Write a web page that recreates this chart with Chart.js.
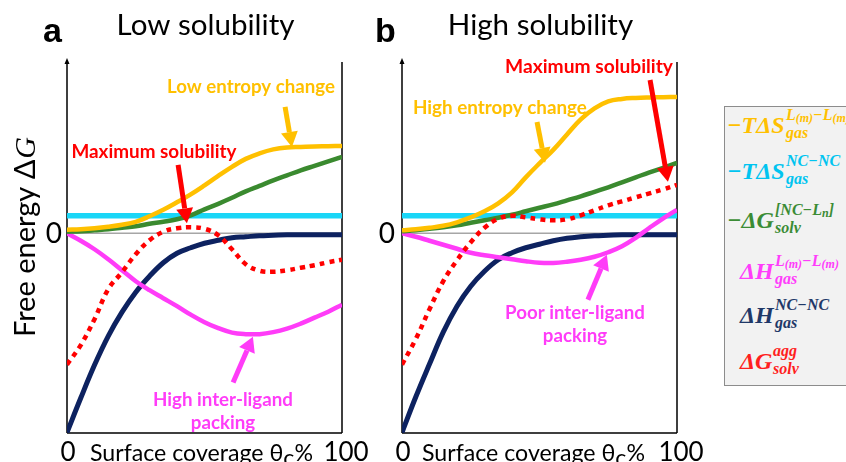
<!DOCTYPE html>
<html>
<head>
<meta charset="utf-8">
<title>Free energy vs surface coverage</title>
<script src="https://cdn.jsdelivr.net/npm/chart.js@4.4.1/dist/chart.umd.min.js"></script>
<style>
  html, body { margin: 0; padding: 0; background: #fff; }
  body { position: relative; width: 846px; height: 462px; overflow: hidden; }
  canvas { position: absolute; left: 0; top: 0; }
  #legendBox { position: absolute; left: 724px; top: 106px; width: 140px; height: 280px; box-sizing: border-box; background: #f2f2f2; border: 1.5px solid #8c8c8c; }
  .ent { position: absolute; white-space: nowrap; font-family: 'Liberation Serif', serif; font-weight: bold; font-style: italic; }
  .ent .m { position: absolute; left: 0; top: 0; font-size: 24px; line-height: 24px; }
  .ent .sp, .ent .sb { position: absolute; font-size: 16px; line-height: 16px; }
  .ent .sp { top: -5.5px; }
  .ent .sb { top: 12.5px; }
  .ent sub { font-size: 12px; vertical-align: -2px; line-height: 0; }
</style>
</head>
<body>
<canvas id="chartA" width="846" height="462"></canvas>
<canvas id="chartB" width="846" height="462"></canvas>
<div id="legendBox"></div>
<div id="legend"></div>
<script>
// surface coverage grid (%), shared by every curve
const coverage = [0, 5, 10, 15, 20, 25, 30, 35, 40, 45, 50, 55, 60, 65, 70, 75, 80, 85, 90, 95, 100];

// panel a: low solubility
const aEntropyLigand = [0.35, 0.4, 0.5, 0.65, 0.85, 1.15, 1.7, 2.35, 3.1, 3.9, 4.8, 5.75, 6.65, 7.45, 8.0, 8.4, 8.6, 8.65, 8.7, 8.72, 8.75];
const aEntropyNC     = [1.75, 1.75, 1.75, 1.75, 1.75, 1.75, 1.75, 1.75, 1.75, 1.75, 1.75, 1.75, 1.75, 1.75, 1.75, 1.75, 1.75, 1.75, 1.75, 1.75, 1.75];
const aSolvation     = [0.15, 0.2, 0.3, 0.4, 0.55, 0.7, 0.95, 1.15, 1.4, 1.8, 2.4, 2.95, 3.55, 4.2, 4.75, 5.3, 5.8, 6.3, 6.75, 7.2, 7.65];
const aEnthalpyLigand = [0, -0.75, -1.6, -2.6, -3.7, -4.8, -5.7, -6.5, -7.3, -8.15, -8.9, -9.5, -9.95, -10.1, -10.1, -9.9, -9.55, -9.05, -8.45, -7.85, -7.15];
const aEnthalpyNC    = [-19.95, -16.5, -13.2, -10.3, -7.9, -5.9, -4.3, -2.95, -2.0, -1.45, -1.0, -0.7, -0.45, -0.35, -0.25, -0.2, -0.15, -0.15, -0.15, -0.15, -0.15];
const aAggregation   = [-13.15, -11.2, -8.6, -5.6, -3.9, -2.1, -0.7, 0.15, 0.5, 0.6, 0.45, -0.2, -1.6, -3.1, -3.75, -3.85, -3.7, -3.45, -3.2, -2.9, -2.65];

// panel b: high solubility
const bEntropyLigand = [0.3, 0.4, 0.55, 0.75, 1.1, 1.6, 2.2, 3.0, 4.1, 5.6, 7.0, 8.35, 9.9, 11.4, 12.5, 13.2, 13.45, 13.55, 13.6, 13.63, 13.65];
const bEntropyNC     = [1.75, 1.75, 1.75, 1.75, 1.75, 1.75, 1.75, 1.75, 1.75, 1.75, 1.75, 1.75, 1.75, 1.75, 1.75, 1.75, 1.75, 1.75, 1.75, 1.75, 1.75];
const bSolvation     = [0.2, 0.3, 0.45, 0.6, 0.8, 1.05, 1.3, 1.55, 1.85, 2.2, 2.55, 2.9, 3.3, 3.7, 4.15, 4.6, 5.1, 5.6, 6.1, 6.55, 7.05];
const bEnthalpyLigand = [0, -0.35, -0.75, -1.15, -1.55, -1.95, -2.2, -2.4, -2.6, -2.8, -2.95, -2.97, -2.85, -2.65, -2.35, -1.9, -1.3, -0.45, 0.55, 1.5, 2.35];
const bEnthalpyNC    = [-19.95, -16.4, -13.1, -9.9, -7.3, -5.3, -3.8, -2.65, -1.95, -1.45, -1.1, -0.75, -0.5, -0.35, -0.25, -0.2, -0.15, -0.15, -0.15, -0.15, -0.15];
const bAggregation   = [-13.15, -10.6, -7.6, -4.8, -2.7, -0.9, 0.55, 1.45, 1.75, 1.6, 1.4, 1.3, 1.4, 1.8, 2.3, 2.8, 3.2, 3.6, 4.0, 4.4, 4.85];

// axes text
const xTickValues = [0, 100];
const xTickLabels = ['0', '100'];
const yTickValues = [0];
const yTickLabels = ['0'];
const panelLetters = ['a', 'b'];
const panelTitles = ['Low solubility', 'High solubility'];

// legend
const legendBase = ['\u2212T\u0394S', '\u2212T\u0394S', '\u2212\u0394G', '\u0394H', '\u0394H', '\u0394G'];
const legendSup = ['L<sub>(m)</sub>\u2212L<sub>(m)</sub>', 'NC\u2212NC', '[NC\u2212L<sub>n</sub>]', 'L<sub>(m)</sub>\u2212L<sub>(m)</sub>', 'NC\u2212NC', 'agg'];
const legendSub = ['gas', 'gas', 'solv', 'gas', 'gas', 'solv'];
const legendColors = ['#ffc000', '#00c4f0', '#3b8c35', '#ff3dfb', '#1f3868', '#ff1f1f'];
const legendLeft = [727, 727, 727, 740, 740, 740];
const legendCapTop = [117, 163, 212, 263, 307, 353];

const C = { yellow: '#ffc000', cyan: '#1ad6f7', green: '#3a8a2f', magenta: '#ff3cf8', navy: '#0d2260', red: '#ff0000' };

// annotations, anchored in data units
const notesA = [
  { lines: ['Low entropy change'], color: C.yellow, at: [66.9, 14.65], from: [79.3, 12.65], to: [81.8, 8.65], w: 168 },
  { lines: ['Maximum solubility'], color: C.red, at: [31.6, 8.15], from: [40.4, 6.85], to: [43.6, 1.0], w: 165 },
  { lines: ['High inter-ligand', 'packing'], color: C.magenta, at: [56.7, -16.65], from: [60.4, -14.95], to: [67.6, -10.35], w: 140 }
];
const notesB = [
  { lines: ['Maximum solubility'], color: C.red, at: [68, 16.65], from: [90.2, 15.35], to: [96.7, 5.15], w: 168 },
  { lines: ['High entropy change'], color: C.yellow, at: [35.6, 12.55], from: [49.1, 11.15], to: [52, 7.05], w: 174 },
  { lines: ['Poor inter-ligand', 'packing'], color: C.magenta, at: [62.9, -7.95], from: [67.6, -6.65], to: [74.5, -2.15], w: 140 }
];

function fitSize(ctx, text, width, weight, family) {
  ctx.font = `${weight} 20px ${family}`;
  return 20 * width / ctx.measureText(text).width;
}

function arrow(ctx, x1, y1, x2, y2, color) {
  const ang = Math.atan2(y2 - y1, x2 - x1), hl = 15, hw = 8.5;
  const bx = x2 - hl * Math.cos(ang), by = y2 - hl * Math.sin(ang);
  ctx.strokeStyle = color; ctx.lineWidth = 5; ctx.lineCap = 'butt';
  ctx.beginPath(); ctx.moveTo(x1, y1); ctx.lineTo(bx, by); ctx.stroke();
  ctx.fillStyle = color;
  ctx.beginPath();
  ctx.moveTo(x2, y2);
  ctx.lineTo(bx + hw * Math.sin(ang), by - hw * Math.cos(ang));
  ctx.lineTo(bx - hw * Math.sin(ang), by + hw * Math.cos(ang));
  ctx.closePath(); ctx.fill();
}

const decor = {
  id: 'decor',
  beforeDatasetsDraw(chart, args, o) {
    const { ctx, chartArea: a, scales: { y } } = chart;
    ctx.save();
    const y0 = y.getPixelForValue(0);
    ctx.strokeStyle = '#a6a6a6'; ctx.lineWidth = 1.3;
    ctx.beginPath(); ctx.moveTo(a.left, y0); ctx.lineTo(a.right, y0); ctx.stroke();
    ctx.strokeStyle = '#000'; ctx.lineWidth = 1.5;
    ctx.beginPath();
    ctx.moveTo(a.left, a.bottom); ctx.lineTo(a.left, a.top - 1);
    ctx.moveTo(a.left, a.bottom); ctx.lineTo(a.right, a.bottom);
    ctx.moveTo(a.right, a.top); ctx.lineTo(a.right, a.bottom);
    ctx.stroke();
    ctx.fillStyle = '#000';
    ctx.beginPath();
    ctx.moveTo(a.left, a.top - 4); ctx.lineTo(a.left - 2.5, a.top + 2); ctx.lineTo(a.left + 2.5, a.top + 2);
    ctx.closePath(); ctx.fill();
    ctx.restore();
  },
  afterDraw(chart, args, o) {
    const { ctx, chartArea: a, scales: { x, y } } = chart;
    const p = o.panel;
    ctx.save();
    ctx.fillStyle = '#000';
    ctx.textBaseline = 'alphabetic';

    // panel letter + title
    ctx.font = 'bold 34px "Liberation Sans"';
    ctx.textAlign = 'left';
    ctx.fillText(panelLetters[p], a.left - (p ? 27 : 24), 42);
    const ts = fitSize(ctx, panelTitles[0], 178, 'normal', 'Lato');
    ctx.font = `normal ${ts}px Lato`;
    ctx.textAlign = 'center';
    ctx.fillText(panelTitles[p], (a.left + a.right) / 2 + 1, 35);

    // y ticks
    ctx.font = '28px Lato';
    ctx.textAlign = 'right';
    ctx.textBaseline = 'middle';
    yTickValues.forEach((v, i) => ctx.fillText(yTickLabels[i], a.left - (p ? 7 : 5), y.getPixelForValue(v) + 1));

    // x ticks and title
    ctx.textBaseline = 'alphabetic';
    ctx.font = '26px Lato';
    ctx.textAlign = 'center';
    xTickValues.forEach((v, i) => ctx.fillText(xTickLabels[i], x.getPixelForValue(v) + (v ? 4 : 1), 461));
    ctx.textAlign = 'left';
    const parts = [['Surface coverage ', 'Lato', 1, 0], ['\u03B8', 'italic "Liberation Serif"', 1, 0], ['c', 'italic "Liberation Serif"', 0.65, 5], ['%', 'Lato', 1, 0]];
    let total = 0;
    parts.forEach(([t, f, k]) => { ctx.font = `${26 * k}px ${f}`; total += ctx.measureText(t).width; });
    const fs = 26 * 223 / total;
    let cx = a.left + (p ? 20 : 23);
    parts.forEach(([t, f, k, dy]) => { ctx.font = `${fs * k}px ${f}`; ctx.fillText(t, cx, 461 + dy); cx += ctx.measureText(t).width; });

    // y title (panel a only)
    if (p === 0) {
      ctx.save();
      ctx.translate(35, 337);
      ctx.rotate(-Math.PI / 2);
      ctx.font = '29px Lato';
      ctx.fillText('Free energy \u0394', 0, 0);
      const w = ctx.measureText('Free energy \u0394').width;
      ctx.font = 'italic 30px "Liberation Serif"';
      ctx.fillText('G', w + 1, 0);
      ctx.restore();
    }

    // annotations
    o.notes.forEach(n => {
      arrow(ctx, x.getPixelForValue(n.from[0]), y.getPixelForValue(n.from[1]), x.getPixelForValue(n.to[0]), y.getPixelForValue(n.to[1]), n.color);
      const s = fitSize(ctx, n.lines[0], n.w, 'bold', 'Lato');
      ctx.font = `bold ${s}px Lato`;
      ctx.fillStyle = n.color;
      ctx.textAlign = 'center';
      ctx.textBaseline = 'middle';
      n.lines.forEach((t, k) => ctx.fillText(t, x.getPixelForValue(n.at[0]), y.getPixelForValue(n.at[1]) + k * 23));
    });
    ctx.restore();
  }
};

function curve(vals, color, extra) {
  return Object.assign({
    data: coverage.map((c, i) => ({ x: c, y: vals[i] })),
    borderColor: color, borderWidth: 4.5, pointRadius: 0, fill: false,
    tension: 0.4
  }, extra || {});
}

function makePanel(id, idx, s, notes, padLeft, padRight) {
  return new Chart(document.getElementById(id), {
    type: 'line',
    data: {
      datasets: [
        curve(s[5], C.red, { borderDash: [5, 5], borderWidth: 4.5 }),
        curve(s[0], C.yellow),
        curve(s[2], C.green),
        curve(s[3], C.magenta),
        curve(s[4], C.navy, { borderWidth: 5 }),
        curve(s[1], C.cyan, { borderWidth: 5.5 })
      ]
    },
    options: {
      responsive: false,
      animation: false,
      devicePixelRatio: 1,
      layout: { padding: { left: padLeft, right: padRight, top: 62, bottom: 29 } },
      scales: {
        x: { type: 'linear', min: 0, max: 100, display: false },
        y: { min: -20, max: 17.15, display: false }
      },
      plugins: {
        legend: { display: false },
        tooltip: { enabled: false },
        decor: { panel: idx, notes: notes }
      }
    },
    plugins: [decor]
  });
}

makePanel('chartA', 0, [aEntropyLigand, aEntropyNC, aSolvation, aEnthalpyLigand, aEnthalpyNC, aAggregation], notesA, 67, 504);
makePanel('chartB', 1, [bEntropyLigand, bEntropyNC, bSolvation, bEnthalpyLigand, bEnthalpyNC, bAggregation], notesB, 402, 169);

// legend with stacked super/subscripts
const legendEl = document.getElementById('legend');
legendBase.forEach((b, i) => {
  const d = document.createElement('div');
  d.className = 'ent';
  d.style.left = legendLeft[i] + 'px';
  d.style.top = (legendCapTop[i] - 4.3) + 'px';
  d.style.color = legendColors[i];
  d.innerHTML = `<span class="m">${b}</span><span class="sp">${legendSup[i]}</span><span class="sb">${legendSub[i]}</span>`;
  legendEl.appendChild(d);
  const w = d.querySelector('.m').offsetWidth;
  d.querySelectorAll('.sp, .sb').forEach(el => { el.style.left = (w + 1) + 'px'; });
});
</script>
</body>
</html>
